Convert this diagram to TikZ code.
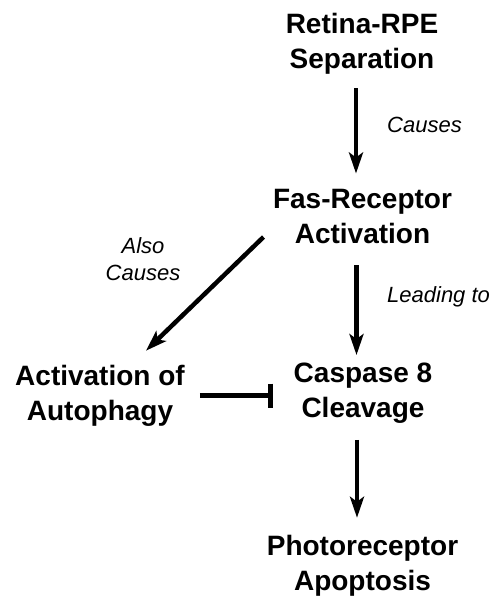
\documentclass[tikz,border=0pt]{standalone}
\usepackage{fontspec}
\setmainfont{Liberation Sans}
\usetikzlibrary{arrows.meta}
\begin{document}
\begin{tikzpicture}[x=1pt,y=-1pt,
  block/.style={align=center,inner sep=0pt,font=\bfseries\fontsize{28}{35}\selectfont},
  lbl/.style={inner sep=0pt,font=\itshape\fontsize{22}{27}\selectfont},
  arr/.style={line width=4.5pt,-{Stealth[length=21pt,width=14pt,inset=5pt]}},
  inhib/.style={line width=4.5pt,-{Bar[width=24pt]}}]
\fill[white] (0,0) rectangle (500,598);
\useasboundingbox (0,0) rectangle (500,598);
\node[block] (ret) at (362,43.7) {Retina-RPE\\Separation};
\node[block] (fas) at (362.5,216) {Fas-Receptor\\Activation};
\node[block] (act) at (100,395.5) {Activation of\\Autophagy};
\node[block] (cas) at (363,393.5) {Caspase 8\\Cleavage};
\node[block] (pho) at (362.5,565.5) {Photoreceptor\\Apoptosis};
\node[lbl,anchor=base west] (l1) at (387,132) {Causes};
\node[lbl,anchor=base west] (l2) at (387,302) {Leading to};
\node[lbl,align=center,anchor=base] (l3) at (143,280) {Also\\Causes};
\draw[arr,shorten <=14pt,shorten >=15pt] ([xshift=-6pt]ret.south) -- ([xshift=-6pt]ret.south |- fas.north);
\draw[arr,shorten <=22pt,shorten >=8pt] ([xshift=-6pt]fas.south) -- ([xshift=-6pt]fas.south |- cas.north);
\draw[arr,shorten <=16pt,shorten >=17pt] ([xshift=-6pt]cas.south) -- ([xshift=-6pt]cas.south |- pho.north);
\draw[arr] ([shift={(-99,21)}]fas.center) -- ([shift={(46,-14)}]act.north);
\draw[inhib,shorten <=15pt,shorten >=21pt] (act.east) -- (act.east -| cas.west);
\end{tikzpicture}
\end{document}
